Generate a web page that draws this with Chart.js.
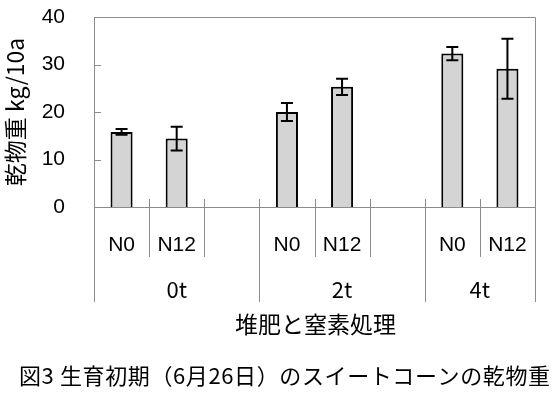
<!DOCTYPE html>
<html>
<head>
<meta charset="utf-8">
<script src="https://cdn.jsdelivr.net/npm/chart.js@4"></script>
<style>
    html, body { margin: 0; padding: 0; background: #fff; }
    #wrap { width: 557px; height: 396px; position: relative; }
</style>
</head>
<body>
<div id="wrap"><canvas id="grafica"></canvas></div>
<script>
// datos
const categorias = ["N0", "N12", "", "N0", "N12", "", "N0", "N12"];
const valores = [15.8, 14.4, null, 20.0, 25.3, null, 32.3, 29.1];
const errores = [0.6, 2.5, null, 1.9, 1.7, null, 1.4, 6.3];
const grupos = ["0t", "2t", "4t"];
const gruposInicio = [0, 3, 6];
const gruposFin = [3, 6, 8];
const ticksY = [0, 10, 20, 30, 40];

const tituloY = "乾物重 kg/10a";
const tituloX = "堆肥と窒素処理";
const pie = "図3 生育初期（6月26日）のスイートコーンの乾物重";

const gris = "#8c8c8c";
const fuenteLatina = "'Liberation Sans', Arial, sans-serif";
const fuenteCJK = "'Noto Sans CJK JP', sans-serif";

// escribe el texto repartiendo espacio para que ocupe el ancho dado
function textoAncho(ctx, texto, x, y, ancho) {
    ctx.letterSpacing = "0px";
    const medido = ctx.measureText(texto).width;
    const extra = (ancho - medido) / (texto.length - 1);
    ctx.letterSpacing = extra.toFixed(2) + "px";
    ctx.fillText(texto, x, y);
    ctx.letterSpacing = "0px";
}

const dibujoExtra = {
    id: "dibujoExtra",
    afterDatasetsDraw(chart) {
        const ctx = chart.ctx;
        const y = chart.scales.y;
        const meta = chart.getDatasetMeta(0);

        ctx.save();
        ctx.strokeStyle = "#000";
        ctx.lineWidth = 2;
        meta.data.forEach((barra, i) => {
            if (valores[i] == null) return;
            const x = barra.x;
            const yArriba = y.getPixelForValue(valores[i] + errores[i]);
            const yAbajo = y.getPixelForValue(valores[i] - errores[i]);
            const ancho = 6;
            ctx.beginPath();
            ctx.moveTo(x, yArriba);
            ctx.lineTo(x, yAbajo);
            ctx.moveTo(x - ancho, yArriba);
            ctx.lineTo(x + ancho, yArriba);
            ctx.moveTo(x - ancho, yAbajo);
            ctx.lineTo(x + ancho, yAbajo);
            ctx.stroke();
        });
        ctx.restore();
    },
    afterDraw(chart) {
        const ctx = chart.ctx;
        const area = chart.chartArea;
        const x = chart.scales.x;
        const y = chart.scales.y;
        const paso = (area.right - area.left) / categorias.length;
        const borde = (i) => x.getPixelForValue(i) - paso / 2;

        ctx.save();
        ctx.strokeStyle = gris;
        ctx.lineWidth = 1;

        // marco superior y derecho
        ctx.beginPath();
        ctx.moveTo(area.left, area.top + 0.5);
        ctx.lineTo(area.right + 0.5, area.top + 0.5);
        ctx.lineTo(area.right + 0.5, area.bottom);
        ctx.stroke();

        // marcas hacia dentro en el eje y
        ticksY.forEach((v) => {
            const py = Math.round(y.getPixelForValue(v)) + 0.5;
            ctx.beginPath();
            ctx.moveTo(area.left, py);
            ctx.lineTo(area.left + 7, py);
            ctx.stroke();
        });

        // separadores de categorías
        for (let i = 1; i < categorias.length; i++) {
            const px = Math.round(borde(i)) + 0.5;
            const esGrupo = gruposInicio.includes(i);
            ctx.beginPath();
            ctx.moveTo(px, area.bottom - 8);
            ctx.lineTo(px, esGrupo ? area.bottom + 95 : area.bottom + 50);
            ctx.stroke();
        }
        [area.left, area.right].forEach((px) => {
            const p = Math.round(px) + 0.5;
            ctx.beginPath();
            ctx.moveTo(p, area.bottom);
            ctx.lineTo(p, area.bottom + 95);
            ctx.stroke();
        });

        // etiquetas N0 / N12
        ctx.fillStyle = "#000";
        ctx.textAlign = "center";
        ctx.textBaseline = "middle";
        ctx.font = "21px " + fuenteLatina;
        categorias.forEach((c, i) => {
            if (!c) return;
            ctx.fillText(c, x.getPixelForValue(i), area.bottom + 38);
        });

        // etiquetas de grupo
        ctx.font = "22px " + fuenteCJK;
        grupos.forEach((g, k) => {
            const cx = (borde(gruposInicio[k]) + borde(gruposFin[k])) / 2;
            ctx.fillText(g, cx, area.bottom + 83);
        });

        // título del eje x
        ctx.font = "23px " + fuenteCJK;
        ctx.fillText(tituloX, (area.left + area.right) / 2 + 1, area.bottom + 117);

        // pie de figura
        ctx.font = "22px " + fuenteCJK;
        ctx.textAlign = "left";
        textoAncho(ctx, pie, 19, 376, 531);

        ctx.restore();
    }
};

new Chart(document.getElementById("grafica"), {
    type: "bar",
    data: {
        labels: categorias,
        datasets: [
            {
                data: valores,
                backgroundColor: "#d4d4d4",
                borderColor: "#000",
                borderWidth: 2,
                borderSkipped: "bottom",
                categoryPercentage: 1,
                barPercentage: 0.4
            }
        ]
    },
    options: {
        responsive: true,
        maintainAspectRatio: false,
        animation: false,
        layout: {
            padding: { top: 17, right: 22, left: 0, bottom: 0 }
        },
        plugins: {
            legend: { display: false },
            tooltip: { enabled: false }
        },
        scales: {
            x: {
                offset: true,
                grid: { display: false, drawTicks: false },
                border: { display: true, color: gris, width: 1 },
                ticks: { display: false },
                afterFit(scale) {
                    scale.height = 189;
                    scale.paddingLeft = 0;
                    scale.paddingRight = 0;
                }
            },
            y: {
                min: 0,
                max: 40,
                afterBuildTicks(scale) {
                    scale.ticks = ticksY.map((v) => ({ value: v }));
                },
                grid: { display: false, drawTicks: false },
                border: { display: true, color: gris, width: 1 },
                ticks: {
                    color: "#000",
                    padding: 29,
                    font: { family: fuenteLatina, size: 21 }
                },
                title: {
                    display: true,
                    text: tituloY,
                    color: "#000",
                    padding: { top: 1, bottom: 0 },
                    font: { family: fuenteCJK, size: 23 }
                },
                afterFit(scale) {
                    scale.width = 94;
                    scale.paddingTop = 0;
                    scale.paddingBottom = 0;
                }
            }
        }
    },
    plugins: [dibujoExtra]
});
</script>
</body>
</html>
